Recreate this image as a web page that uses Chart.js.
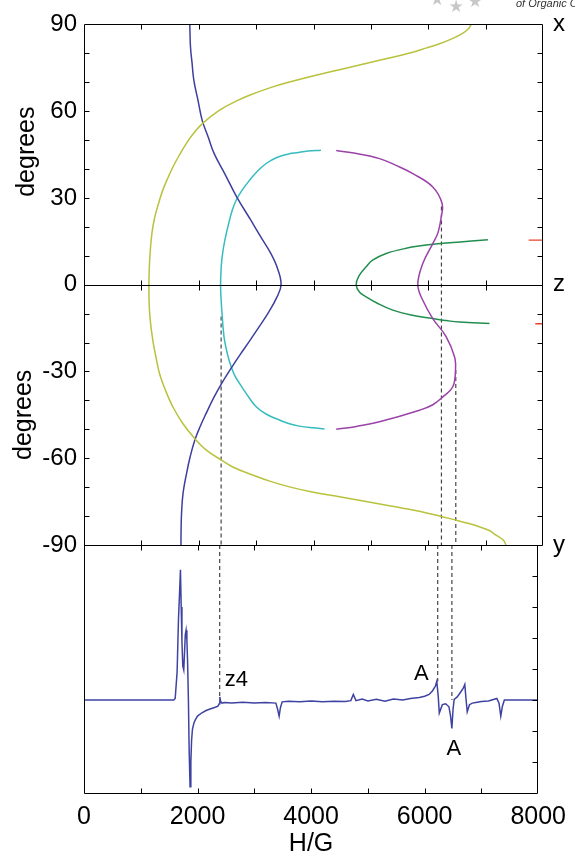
<!DOCTYPE html>
<html>
<head>
<meta charset="utf-8">
<script src="https://cdn.jsdelivr.net/npm/chart.js@4.4.1/dist/chart.umd.min.js"></script>
<style>
  html, body { margin: 0; padding: 0; background: #fff; }
  #wrap { position: relative; width: 575px; height: 857px; }
  #wrap canvas { position: absolute; left: 0; top: 0; }
</style>
</head>
<body>
<div id="wrap">
  <canvas id="angles" width="575" height="857"></canvas>
  <canvas id="spectrum" width="575" height="857"></canvas>
</div>
<script>
// ── Data: angular dependence of the resonance fields (degrees vs H/G) ──
const blueAngle = [90, 82.2, 76.5, 70.7, 63.7, 56.8, 51, 45.3, 38, 30.3, 22.3, 16.5, 10.8, 5.6, 0,
  -4.4, -9.4, -14.5, -19.6, -24, -28.4, -34.1, -39.3, -44.5, -49, -53.7, -59.5, -65.2, -72, -79.1, -85, -90];
const blueField = [1844, 1856, 1884, 1914, 1987, 2060, 2166, 2269, 2463, 2663, 2908, 3081, 3256, 3373, 3435,
  3360, 3222, 3054, 2881, 2727, 2580, 2400, 2255, 2129, 2025, 1932, 1850, 1788, 1727, 1700, 1692, 1690];

const yellowAngle = [90, 88.5, 86.8, 85, 83.3, 81.8, 80.4, 77.6, 74.7, 72, 70, 68.3, 65.5, 63.8, 60.3, 55.7, 52, 48.8, 44.5, 40.7,
  36.5, 32.7, 28, 23.4, 18, 10, 0, -10, -19.2, -25, -30.7, -36.5, -42.2, -48, -53.1, -57, -60.6, -63.2, -65.8, -68,
  -69.9, -71.6, -73.3, -75.6, -77.9, -79, -80.2, -81.4, -82.5, -83.7, -85, -86.6, -88.3, -90];
const yellowField = [6748, 6700, 6591, 6410, 6196, 5960, 5731, 5150, 4527, 3955, 3565, 3276, 2884, 2689, 2357, 2063, 1897, 1782, 1653, 1550,
  1453, 1373, 1298, 1234, 1185, 1149, 1131, 1145, 1199, 1254, 1316, 1420, 1548, 1722, 1926, 2121, 2391, 2612, 2942, 3250,
  3582, 3956, 4453, 5085, 5728, 5990, 6240, 6484, 6693, 6890, 7066, 7181, 7308, 7355];

const cyanAngle = [46.5, 46.2, 45.6, 45.3, 44, 41.9, 39, 36.1, 32.5, 29.2, 25.5, 22.3, 15.4, 10, 6.2, 0,
  -6, -11, -15, -19.2, -24, -28.4, -31.5, -34.1, -38, -42.2, -44.8, -46.8, -48.1, -48.9, -49.5, -49.9];
const cyanField = [4130, 3900, 3700, 3582, 3360, 3175, 3010, 2885, 2750, 2652, 2580, 2536, 2455, 2410, 2392, 2380,
  2392, 2410, 2425, 2449, 2500, 2565, 2630, 2710, 2840, 3001, 3180, 3407, 3580, 3756, 3980, 4192];

const purpleAngle = [46.4, 45.5, 43.6, 41, 38.4, 33.8, 28, 23.4, 18, 14.2, 7.3, 0, -5.4, -11.7, -18, -24.9, -29.5, -35.3, -38.8, -41.5, -43.4, -47.4, -49, -50];
const purpleField = [4396, 4700, 5150, 5470, 5731, 6079, 6243, 6226, 6170, 6079, 5905, 5818, 5905, 6079, 6313, 6458, 6475, 6428, 6254, 6080, 5847, 5150, 4750, 4396];

const greenAngle = [15.5, 15.0, 14.6, 13.7, 12.6, 10.8, 8.5, 6.2, 3, 0, -2.5, -4.2, -6.5, -8.8, -10.5, -11.7, -12.5, -12.9, -13.4];
const greenField = [7040, 6700, 6430, 5964, 5615, 5267, 5030, 4918, 4790, 4744, 4800, 4918, 5120, 5382, 5700, 6079, 6350, 6545, 7068];

// short red markers at the right edge
const redAngle = [15.4, -13.5];
const redStart = [7750, 7865];
const redEnd = [8000, 8000];

// dashed guide lines linking curve turning points with spectrum features
const guideField = [2390, 6230, 6480];
const guideTopAngle = [-11, 27, -29.5];
const guideSpecEnd = [0.1, 0.6, 0];

// ── Data: EPR spectrum ──
const specField = [0, 1580, 1606, 1640, 1664, 1682, 1699, 1712, 1725, 1740, 1757, 1770, 1784, 1798, 1812, 1825, 1839, 1852, 1868, 1882,
  1895, 1910, 1935, 1960, 2000, 2070, 2150, 2220, 2300, 2360, 2382, 2393, 2405, 2430, 2480, 2600, 2800, 3000, 3200, 3380,
  3410, 3437, 3460, 3490, 3600, 3800, 4000, 4200, 4400, 4600, 4700, 4744, 4790, 4900, 5000, 5150, 5300, 5450, 5615, 5750,
  5905, 6000, 6079, 6140, 6190, 6214, 6240, 6258, 6312, 6370, 6428, 6455, 6480, 6500, 6520, 6574, 6632, 6680, 6707, 6728,
  6750, 6790, 6840, 6900, 7000, 7125, 7271, 7310, 7341, 7370, 7404, 8000];
const specValue = [0, 0, 0.05, 0.9, 2.6, 3.4, 4.2, 3.0, 1.9, 1.1, 0.97, 1.5, 2.1, 2.25, 1.95, 1.2, 0, -1.6, -2.8, -2.0,
  -1.3, -0.95, -0.75, -0.64, -0.52, -0.42, -0.34, -0.29, -0.24, -0.2, -0.12, 0.1, -0.04, -0.1, -0.08, -0.1, -0.07, -0.1, -0.08, -0.1,
  -0.3, -0.52, -0.25, -0.06, -0.04, -0.06, -0.03, -0.06, -0.04, -0.05, -0.02, 0.18, -0.02, 0.03, -0.03, 0.02, -0.04, 0.03, 0.0, 0.05,
  0.08, 0.12, 0.18, 0.3, 0.45, 0.6, 0.1, -0.42, -0.15, -0.12, -0.22, -0.5, -0.92, -0.3, 0.02, 0.1, 0.25, 0.38, 0.5, 0.05,
  -0.38, -0.15, -0.1, -0.08, -0.05, -0.03, 0.05, -0.1, -0.52, -0.2, 0, 0];

const peakNames = ['z4', 'A', 'A'];
const peakFields = [2390, 6230, 6480];
const peakValues = [0.65, 0.84, -1.58];

// ── Axis ticks ──
const angleLabels = [-90, -60, -30, 0, 30, 60, 90];
const angleMinor = [-80, -70, -60, -50, -40, -30, -20, -10, 0, 10, 20, 30, 40, 50, 60, 70, 80];
const axisLetters = { '90': 'x', '0': 'z', '-90': 'y' };
const fieldLabels = [0, 2000, 4000, 6000, 8000];
const fieldMinor = [1000, 2000, 3000, 4000, 5000, 6000, 7000];
const specMinor = [-2, -1, 0, 1, 2, 3, 4];

// ── Global config ──
const FONT = "'Liberation Sans', Arial, Helvetica, sans-serif";
Chart.defaults.font.family = FONT;
Chart.defaults.color = '#000';
Chart.defaults.animation = false;
Chart.defaults.plugins.legend.display = false;
Chart.defaults.plugins.tooltip.enabled = false;

const COLORS = {
  blue: '#3d3f9e',
  yellow: '#b8c23c',
  cyan: '#36bcbf',
  purple: '#9a42a8',
  green: '#228e4e',
  red: '#e8432e',
  guide: '#444',
  spectrum: '#3e43a2',
};

function curve(angles, fields, color) {
  return {
    data: angles.map((a, i) => ({ x: fields[i], y: a })),
    showLine: true, borderColor: color, borderWidth: 1.5,
    pointRadius: 0, tension: 0.4, fill: false,
  };
}

function segment(points, color, width, dash) {
  return {
    data: points, showLine: true, borderColor: color, borderWidth: width,
    borderDash: dash || [], pointRadius: 0, tension: 0, fill: false,
  };
}

// frame, inward ticks, zero line and free text
const frame = {
  id: 'frame',
  afterDatasetsDraw(chart, args, o) {
    const { ctx, chartArea: a, scales } = chart;
    const xs = scales.x, ys = scales.y;
    const px = v => Math.round(xs.getPixelForValue(v)) + 0.5;
    const py = v => Math.round(ys.getPixelForValue(v)) + 0.5;
    const L = Math.round(a.left) + 0.5, R = Math.round(a.right) - 0.5;
    const T = Math.round(a.top) + 0.5, B = Math.round(a.bottom) + 0.5;
    const tl = 5;
    ctx.save();
    ctx.strokeStyle = '#000';
    ctx.lineWidth = 1;
    ctx.beginPath();
    ctx.rect(L, T, R - L, B - T);
    fieldMinor.forEach(v => {
      const x = px(v);
      ctx.moveTo(x, T); ctx.lineTo(x, T + tl);
      ctx.moveTo(x, B - tl); ctx.lineTo(x, B);
      if (o.zeroLine) {
        const z = py(0);
        ctx.moveTo(x, z - tl); ctx.lineTo(x, z + tl);
      }
    });
    (o.leftTicks || []).forEach(v => { const y = py(v); ctx.moveTo(L, y); ctx.lineTo(L + tl, y); });
    (o.rightTicks || []).forEach(v => { const y = py(v); ctx.moveTo(R - tl, y); ctx.lineTo(R, y); });
    if (o.zeroLine) {
      const z = py(0);
      ctx.moveTo(L, z); ctx.lineTo(R, z);
    }
    ctx.stroke();

    ctx.fillStyle = '#000';
    if (o.sideTitle) {
      ctx.font = '25px ' + FONT;
      ctx.textAlign = 'center';
      ctx.textBaseline = 'middle';
      const sx = [27, 24];
      o.sideTitle.forEach((v, i) => {
        ctx.save();
        ctx.translate(sx[i], ys.getPixelForValue(v));
        ctx.rotate(-Math.PI / 2);
        ctx.fillText('degrees', 0, 0);
        ctx.restore();
      });
    }
    if (o.peaks) {
      ctx.font = '22px ' + FONT;
      ctx.textBaseline = 'middle';
      const align = ['left', 'right', 'center'];
      const dx = [5, -9, 2];
      peakNames.forEach((t, i) => {
        ctx.textAlign = align[i];
        ctx.fillText(t, xs.getPixelForValue(peakFields[i]) + dx[i], ys.getPixelForValue(peakValues[i]));
      });
    }
    if (o.watermark) {
      ctx.fillStyle = '#c8c8c8';
      ctx.font = '17px DejaVu Sans';
      ctx.textAlign = 'center';
      ctx.textBaseline = 'middle';
      ctx.fillText('★', 437, 1);
      ctx.fillText('★', 456, 8);
      ctx.fillText('★', 475, 3);
      ctx.fillStyle = '#333';
      ctx.font = 'italic 11px ' + FONT;
      ctx.textAlign = 'left';
      ctx.textBaseline = 'alphabetic';
      ctx.fillText('of Organic C', 516, 7);
    }
    ctx.restore();
  },
};

const noGrid = { display: false, drawTicks: false };

// ── Top panel: angles ──
const topSets = [
  curve(yellowAngle, yellowField, COLORS.yellow),
  curve(blueAngle, blueField, COLORS.blue),
  curve(cyanAngle, cyanField, COLORS.cyan),
  curve(purpleAngle, purpleField, COLORS.purple),
  curve(greenAngle, greenField, COLORS.green),
];
redAngle.forEach((a, i) => topSets.push(segment([{ x: redStart[i], y: a }, { x: redEnd[i], y: a }], COLORS.red, 1.4)));
guideField.forEach((f, i) => topSets.push(segment([{ x: f, y: guideTopAngle[i] }, { x: f, y: -90 }], COLORS.guide, 1.2, [4, 3])));

new Chart(document.getElementById('angles'), {
  type: 'scatter',
  data: { datasets: topSets },
  options: {
    responsive: false,
    devicePixelRatio: 1,
    layout: { padding: { top: 24, bottom: 312, left: 0, right: 0 } },
    scales: {
      x: { type: 'linear', min: 0, max: 8000, display: false },
      y: {
        type: 'linear', position: 'left', min: -90, max: 90,
        grid: noGrid, border: { display: false },
        ticks: {
          stepSize: 10, autoSkip: false, padding: 7, font: { size: 24 },
          callback: v => angleLabels.includes(v) ? v : '',
        },
        afterFit: s => { s.width = 84; },
      },
      yr: {
        type: 'linear', position: 'right', min: -90, max: 90,
        grid: noGrid, border: { display: false },
        ticks: {
          stepSize: 90, autoSkip: false, padding: 10, font: { size: 24 },
          callback: v => axisLetters[String(v)] || '',
        },
        afterFit: s => { s.width = 32; },
      },
    },
    plugins: {
      frame: { zeroLine: true, leftTicks: angleMinor, rightTicks: angleMinor, sideTitle: [46, -45], watermark: true },
    },
  },
  plugins: [frame],
});

// ── Bottom panel: spectrum ──
const bottomSets = [
  {
    data: specField.map((f, i) => ({ x: f, y: specValue[i] })),
    showLine: true, borderColor: COLORS.spectrum, borderWidth: 1.5,
    pointRadius: 0, tension: 0, fill: false,
  },
];
guideField.forEach((f, i) => bottomSets.push(segment([{ x: f, y: 5 }, { x: f, y: guideSpecEnd[i] }], COLORS.guide, 1.2, [4, 3])));

new Chart(document.getElementById('spectrum'), {
  type: 'scatter',
  data: { datasets: bottomSets },
  options: {
    responsive: false,
    devicePixelRatio: 1,
    layout: { padding: { top: 545, bottom: 0, left: 0, right: 32 } },
    scales: {
      x: {
        type: 'linear', position: 'bottom', min: 0, max: 8000,
        grid: noGrid, border: { display: false },
        ticks: {
          stepSize: 1000, autoSkip: false, maxRotation: 0, padding: 9, font: { size: 25 },
          callback: v => fieldLabels.includes(v) ? v : '',
        },
        title: { display: true, text: 'H/G', font: { size: 25, lineHeight: 1 }, padding: { top: 0, bottom: 0 } },
        afterFit: s => { s.height = 64; },
      },
      y: {
        type: 'linear', position: 'left', min: -3, max: 5,
        grid: noGrid, border: { display: false },
        ticks: { display: false },
        afterFit: s => { s.width = 84; },
      },
    },
    plugins: {
      frame: { rightTicks: specMinor, peaks: true },
    },
  },
  plugins: [frame],
});
</script>
</body>
</html>
